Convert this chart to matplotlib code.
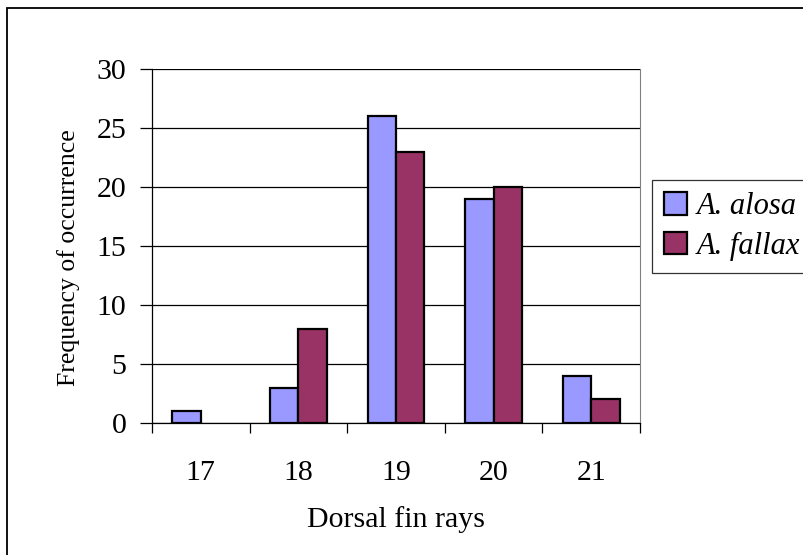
import numpy as np
import matplotlib
matplotlib.use("Agg")
from matplotlib import pyplot as plt
from matplotlib.patches import Rectangle, Patch

# Datos
rays = ["17", "18", "19", "20", "21"]
alosa = [1, 3, 26, 19, 4]
fallax = [0, 8, 23, 20, 2]
y_ticks = [0, 5, 10, 15, 20, 25, 30]

plt.rcParams['font.family'] = ['Liberation Serif', 'DejaVu Serif']

W, H = 804, 555
fig = plt.figure(figsize=(W / 100, H / 100), dpi=100)
ax = fig.add_axes([152 / W, 1 - 423 / H, (640 - 152) / W, (423 - 69) / H])

c_alosa, c_fallax = '#9999FF', '#993366'
x = np.arange(len(rays))
w = 0.29
b1 = ax.bar(x - w / 2, alosa, w, color=c_alosa, edgecolor='black', linewidth=1.6, zorder=3)
b2 = ax.bar(x + w / 2, fallax, w, color=c_fallax, edgecolor='black', linewidth=1.6, zorder=3)
# las barras de valor 0 no se dibujan
for p in list(b1) + list(b2):
    if p.get_height() == 0:
        p.set_visible(False)

ax.set_xlim(-0.5, len(rays) - 0.5)
ax.set_ylim(0, 30)
ax.set_yticks(y_ticks)
ax.set_yticklabels([str(v) for v in y_ticks], fontsize=21.5)
ax.yaxis.grid(True, color='black', linewidth=0.9, zorder=0)
ax.tick_params(axis='y', direction='out', length=8.5, width=0.9, pad=10)

# ticks en los limites de categoria, etiquetas en el centro
ax.set_xticks(np.arange(len(rays) + 1) - 0.5)
ax.set_xticklabels([])
ax.set_xticks(x, minor=True)
ax.set_xticklabels(rays, minor=True, fontsize=21.5)
ax.tick_params(axis='x', which='major', direction='out', length=7, width=0.9)
ax.tick_params(axis='x', which='minor', length=0, pad=27)

ax.spines['top'].set_visible(False)
ax.spines['right'].set_color('#808080')
for s in ['left', 'bottom']:
    ax.spines[s].set_linewidth(0.9)

ax.set_ylabel('Frequency of occurrence', fontsize=18.5)
ax.yaxis.set_label_coords(-0.147, 0.466)
ax.set_xlabel('Dorsal fin rays', fontsize=21.5, labelpad=14)

handles = [Patch(facecolor=c_alosa, edgecolor='black', linewidth=1.6),
           Patch(facecolor=c_fallax, edgecolor='black', linewidth=1.6)]
leg = ax.legend(handles, ['A. alosa', 'A. fallax'], loc='upper left',
                bbox_to_anchor=(652 / W, 1 - 180 / H),
                bbox_transform=fig.transFigure, frameon=True, fancybox=False,
                prop={'style': 'italic', 'size': 22}, handlelength=0.75,
                handleheight=0.75, handletextpad=0.3, borderpad=0.4,
                labelspacing=0.35, borderaxespad=0)
leg.get_frame().set_edgecolor('black')
leg.get_frame().set_linewidth(0.9)

# marco exterior
fig.patches.append(Rectangle((7.5 / W, -0.1), 1.5, 1 - 7.5 / H + 0.1,
                             transform=fig.transFigure, fill=False,
                             edgecolor='black', linewidth=1.3))

fig.savefig('out.png', dpi=100)
